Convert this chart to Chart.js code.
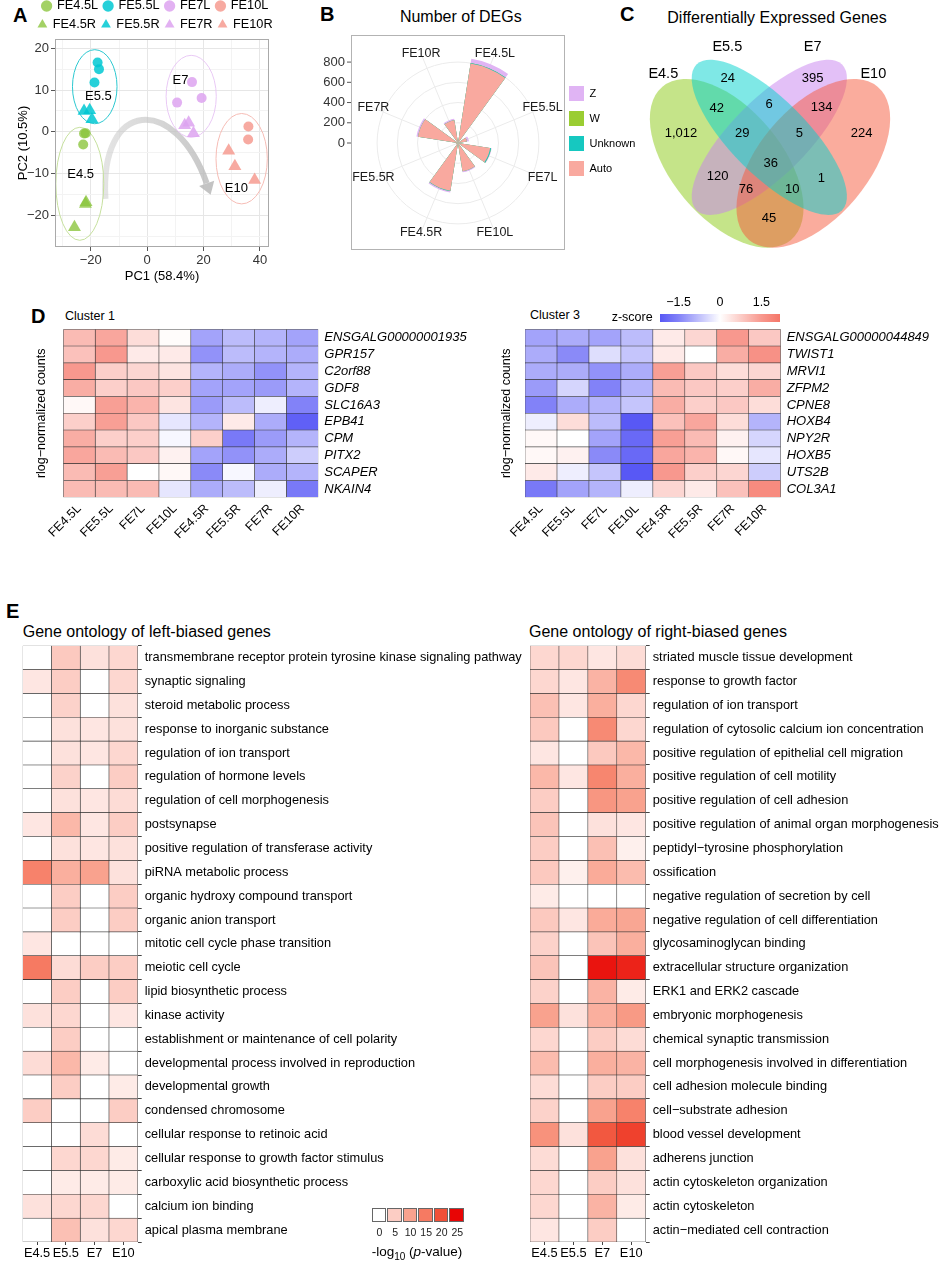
<!DOCTYPE html>
<html>
<head>
<meta charset="utf-8">
<title>Left-right DEG figure</title>
<script src="https://cdn.jsdelivr.net/npm/chart.js@4.4.1/dist/chart.umd.min.js"></script>
<style>
  body { margin: 0; background: #fff; }
  #page { position: relative; width: 941px; height: 1262px; overflow: hidden; background: #fff;
          font-family: 'Liberation Sans', Arial, Helvetica, sans-serif; color: #000; }
  #page canvas { position: absolute; }
  .t { position: absolute; white-space: nowrap; line-height: 1; }
  .box { position: absolute; }
</style>
</head>
<body>
<div id="page"></div>
<script>
const FONT = "'Liberation Sans', Arial, Helvetica, sans-serif";
Chart.defaults.font.family = FONT;
Chart.defaults.color = '#000';
Chart.defaults.animation = false;
Chart.defaults.responsive = false;
Chart.defaults.plugins.tooltip.enabled = false;

// ---------- A: PCA ----------
const pcaGroups = ['FE4.5L', 'FE5.5L', 'FE7L', 'FE10L', 'FE4.5R', 'FE5.5R', 'FE7R', 'FE10R'];
const pcaPC1 = [
  [-21.8, -22.4, -22.7],
  [-17.6, -17.1, -18.7],
  [15.9, 10.6, 19.3],
  [35.9, 35.8],
  [-21.7, -21.9, -25.8],
  [-22.4, -20.4, -19.6],
  [13.3, 14.7, 16.4],
  [28.9, 31.1, 38.1]
];
const pcaPC2 = [
  [-0.3, -0.4, -3.0],
  [16.6, 15.0, 11.8],
  [11.9, 7.0, 8.1],
  [1.3, -1.8],
  [-16.8, -17.2, -22.8],
  [5.0, 5.2, 3.0],
  [1.6, 2.2, -0.3],
  [-4.5, -8.2, -11.5]
];
const stageNames = ['E4.5', 'E5.5', 'E7', 'E10'];
const stageEllipseX = [-23.9, -18.6, 15.6, 33.5];
const stageEllipseY = [-12.4, 10.8, 8.5, -6.4];
const stageEllipseRX = [8.5, 7.9, 8.9, 9.1];
const stageEllipseRY = [13.5, 8.85, 9.8, 10.8];
const stageTextX = [-23.6, -17.3, 11.8, 31.6];
const stageTextY = [-10.1, 8.5, 12.2, -13.6];
const trajectoryX = [-14.8, -17, 10, 22.5];
const trajectoryY = [-16, 8, 9, -15];

// ---------- B: number of DEGs ----------
const degSamples = ['FE4.5L', 'FE5.5L', 'FE7L', 'FE10L', 'FE4.5R', 'FE5.5R', 'FE7R', 'FE10R'];
const degAuto = [795, 90, 322, 283, 478, 20, 400, 228];
const degUnknown = [6, 0, 9, 0, 3, 0, 0, 0];
const degW = [0, 0, 0, 0, 0, 0, 0, 0];
const degZ = [42, 20, 6, 10, 14, 2, 16, 14];
const degTicks = [0, 200, 400, 600, 800];

// ---------- C: Venn ----------
const vennSets = ['E4.5', 'E5.5', 'E7', 'E10'];
const vennCounts = [1012, 24, 395, 224, 42, 6, 134, 29, 5, 120, 1, 36, 76, 10, 45];

// ---------- D: heatmaps (z-scores) ----------
const clusterSamples = ['FE4.5L', 'FE5.5L', 'FE7L', 'FE10L', 'FE4.5R', 'FE5.5R', 'FE7R', 'FE10R'];
const cluster1Genes = ['ENSGALG00000001935', 'GPR157', 'C2orf88', 'GDF8', 'SLC16A3', 'EPB41', 'CPM', 'PITX2', 'SCAPER', 'NKAIN4'];
const cluster1Z = [
  [1.0, 1.3, 0.5, 0.05, -1.1, -0.8, -0.9, -1.1],
  [0.9, 1.5, 0.3, 0.3, -1.3, -0.8, -0.9, -1.0],
  [1.5, 0.7, 0.6, 0.4, -0.9, -1.0, -1.3, -0.9],
  [1.2, 0.7, 0.8, 0.7, -1.1, -1.1, -1.2, -0.9],
  [0.1, 1.4, 1.1, 0.4, -1.2, -0.8, -0.2, -1.5],
  [0.7, 1.4, 0.8, -0.3, -0.9, 0.3, -1.0, -1.9],
  [1.2, 0.7, 0.7, -0.1, 0.7, -1.6, -1.2, -0.9],
  [1.3, 1.0, 0.8, 0.2, -1.1, -1.3, -1.0, -0.6],
  [1.0, 1.4, 0.0, 0.1, -1.4, -0.1, -1.0, -0.9],
  [1.0, 1.0, 1.0, -0.3, -1.0, -0.8, -0.2, -1.6]
];
const cluster3Genes = ['ENSGALG00000044849', 'TWIST1', 'MRVI1', 'ZFPM2', 'CPNE8', 'HOXB4', 'NPY2R', 'HOXB5', 'UTS2B', 'COL3A1'];
const cluster3Z = [
  [-1.1, -1.0, -1.1, -0.8, 0.3, 0.6, 1.5, 0.8],
  [-1.0, -1.4, -0.4, -0.7, 0.3, 0.0, 1.2, 1.6],
  [-1.0, -1.0, -1.3, -1.0, 1.4, 0.8, 0.5, 0.6],
  [-1.2, -0.5, -1.5, -0.9, 1.0, 0.8, 0.7, 1.2],
  [-1.5, -1.0, -0.9, -0.7, 1.2, 0.7, 0.8, 0.5],
  [-0.2, 0.5, -0.8, -2.0, 0.9, 1.3, 0.5, -0.9],
  [0.1, 0.0, -1.1, -1.8, 1.4, 1.0, 0.2, -0.5],
  [0.1, 0.2, -1.4, -1.8, 1.3, 1.1, 0.1, -0.3],
  [0.3, -0.2, -0.7, -2.0, 1.5, 0.7, 0.6, -0.6],
  [-1.6, -1.1, -0.9, -0.2, 0.6, 0.3, 0.9, 1.7]
];
const zTicks = [-1.5, 0, 1.5];

// ---------- E: gene ontology (-log10 p) ----------
const goStages = ['E4.5', 'E5.5', 'E7', 'E10'];
const leftTerms = ['transmembrane receptor protein tyrosine kinase signaling pathway', 'synaptic signaling',
  'steroid metabolic process', 'response to inorganic substance', 'regulation of ion transport',
  'regulation of hormone levels', 'regulation of cell morphogenesis', 'postsynapse',
  'positive regulation of transferase activity', 'piRNA metabolic process', 'organic hydroxy compound transport',
  'organic anion transport', 'mitotic cell cycle phase transition', 'meiotic cell cycle', 'lipid biosynthetic process',
  'kinase activity', 'establishment or maintenance of cell polarity', 'developmental process involved in reproduction',
  'developmental growth', 'condensed chromosome', 'cellular response to retinoic acid',
  'cellular response to growth factor stimulus', 'carboxylic acid biosynthetic process', 'calcium ion binding',
  'apical plasma membrane'];
const leftP = [
  [0, 5.5, 3, 4], [2.5, 5, 0, 4], [0, 4.5, 0, 3], [0, 3, 2.5, 3], [0, 3, 2.5, 4],
  [0, 4.5, 0, 5], [0, 3, 2.5, 3.5], [2.5, 7.5, 2.5, 5], [0, 3, 2.5, 3], [14, 8.5, 10, 3],
  [0, 5, 0, 5], [0, 5, 0, 5], [2.5, 0, 0, 0], [15, 3.5, 5, 5], [0, 5, 0, 5],
  [3, 4, 0, 2.5], [0, 5, 0, 0], [3.5, 7.5, 2, 0], [0, 5, 0, 2], [5, 0, 0, 5],
  [0, 0, 3.5, 0], [0, 4, 4, 2], [0, 2, 2, 2], [3, 4, 4, 0], [0, 6.5, 3, 4]
];
const rightTerms = ['striated muscle tissue development', 'response to growth factor', 'regulation of ion transport',
  'regulation of cytosolic calcium ion concentration', 'positive regulation of epithelial cell migration',
  'positive regulation of cell motility', 'positive regulation of cell adhesion',
  'positive regulation of animal organ morphogenesis', 'peptidyl\u2212tyrosine phosphorylation', 'ossification',
  'negative regulation of secretion by cell', 'negative regulation of cell differentiation', 'glycosaminoglycan binding',
  'extracellular structure organization', 'ERK1 and ERK2 cascade', 'embryonic morphogenesis',
  'chemical synaptic transmission', 'cell morphogenesis involved in differentiation', 'cell adhesion molecule binding',
  'cell\u2212substrate adhesion', 'blood vessel development', 'adherens junction', 'actin cytoskeleton organization',
  'actin cytoskeleton', 'actin\u2212mediated cell contraction'];
const rightP = [
  [4, 4, 2.5, 3.5], [4, 2.5, 8, 13], [6.5, 2.5, 8.5, 4], [5.5, 0, 13, 4], [2.5, 0, 5.5, 7.5],
  [7.5, 2.5, 13.5, 8.5], [5, 0, 11.5, 10], [6, 0, 3, 2.5], [5, 0, 6.5, 1.5], [5.5, 1.5, 9, 7],
  [2, 0, 0, 0], [5.5, 2.5, 9, 9.5], [4.5, 0, 6, 8.5], [6, 0, 24, 23], [4.5, 0, 8, 2],
  [10, 3, 8.5, 11], [4, 0, 5, 3.5], [7, 0, 8.5, 8], [3.5, 0, 5, 5], [4.5, 0, 10, 14],
  [12, 3, 19, 21], [3.5, 0, 10, 3], [4, 0, 5, 3], [4, 0, 8, 2], [2.5, 0, 5, 0]
];
const pTicks = [0, 5, 10, 15, 20, 25];

// ---------- helpers ----------
const page = document.getElementById('page');
function makeCanvas(left, top, w, h) {
  const c = document.createElement('canvas');
  c.width = w; c.height = h;
  Object.assign(c.style, { left: left + 'px', top: top + 'px', width: w + 'px', height: h + 'px' });
  page.appendChild(c);
  return c;
}
function addText(html, x, base, size, align, extra) {
  const d = document.createElement('div');
  d.className = 't';
  d.innerHTML = html;
  d.style.fontSize = size + 'px';
  d.style.top = (base - 0.8465 * size) + 'px';
  if (align === 'center') { d.style.left = x + 'px'; d.style.transform = 'translateX(-50%)'; }
  else d.style.left = x + 'px';
  if (extra) Object.assign(d.style, extra);
  page.appendChild(d);
  return d;
}
function minus(v) { return v < 0 ? '\u2212' + Math.abs(v) : String(v); }
const rad = deg => deg * Math.PI / 180;

function zColor(z) {
  const t = Math.max(-2, Math.min(2, z)) / 2;
  const c = t < 0 ? [88, 88, 245] : [245, 118, 104];
  const a = Math.abs(t);
  return 'rgb(' + c.map(v => Math.round(255 + (v - 255) * a)).join(',') + ')';
}
const pRamp = [[255, 255, 255], [252, 205, 196], [249, 162, 142], [246, 122, 98], [241, 80, 55], [232, 5, 5]];
function pColor(p) {
  const s = Math.max(0, Math.min(25, p)) / 5;
  const i = Math.min(4, Math.floor(s));
  const f = s - i;
  const a = pRamp[i], b = pRamp[i + 1];
  return 'rgb(' + a.map((v, k) => Math.round(v + (b[k] - v) * f)).join(',') + ')';
}

// patch legend size / position
const legendFit = {
  id: 'legendFit',
  beforeLayout(chart, args, opts) {
    const lg = chart.legend;
    if (!lg || lg._patched) return;
    const fit = lg.fit;
    lg.fit = function () {
      fit.call(this);
      if (opts.dh) this.height += opts.dh;
      if (opts.width) this.width = opts.width;
    };
    lg._patched = true;
  },
  afterLayout(chart, args, opts) {
    const lg = chart.legend;
    if (!lg) return;
    const dx = opts.dx || 0, dy = opts.dy || 0;
    lg.left += dx; lg.right += dx; lg.top += dy; lg.bottom += dy;
  }
};

// ---------- panel letters / titles ----------
addText('A', 13, 22, 20, 'left', { fontWeight: 'bold' });
addText('B', 320, 21, 20, 'left', { fontWeight: 'bold' });
addText('C', 620, 21, 20, 'left', { fontWeight: 'bold' });
addText('D', 31, 322.7, 20, 'left', { fontWeight: 'bold' });
addText('E', 6, 618, 20, 'left', { fontWeight: 'bold' });
addText('Number of DEGs', 460.8, 22.5, 16, 'center');
addText('Differentially Expressed Genes', 777, 24, 16, 'center');
addText('Cluster 1', 65, 320.5, 12.5, 'left');
addText('Cluster 3', 530, 320, 12.5, 'left');
addText('Gene ontology of left-biased genes', 22.7, 637.3, 16, 'left');
addText('Gene ontology of right-biased genes', 529, 637.3, 16, 'left');

// ---------- A ----------
const stageFill = ['rgba(140,198,63,0.8)', 'rgba(0,200,210,0.85)', 'rgba(221,163,240,0.85)', 'rgba(246,155,145,0.85)'];
const stageLine = ['#c6e09e', '#2cc8d0', '#e9c9f5', '#f6bcb5'];

const pcaDecor = {
  id: 'pcaDecor',
  beforeDatasetsDraw(chart) {
    const { ctx, scales: { x, y } } = chart;
    ctx.save();
    // developmental trajectory arrow
    const px = trajectoryX.map(v => x.getPixelForValue(v));
    const py = trajectoryY.map(v => y.getPixelForValue(v));
    const ang = Math.atan2(py[3] - py[2], px[3] - px[2]);
    const head = 15;
    const ex = px[3] - Math.cos(ang) * head * 0.8, ey = py[3] - Math.sin(ang) * head * 0.8;
    const grad = ctx.createLinearGradient(px[0], py[0], px[3], py[3]);
    grad.addColorStop(0, 'rgba(205,205,205,0.55)');
    grad.addColorStop(1, 'rgba(185,185,185,0.8)');
    ctx.strokeStyle = grad;
    ctx.lineWidth = 6;
    ctx.beginPath();
    ctx.moveTo(px[0], py[0]);
    ctx.bezierCurveTo(px[1], py[1], px[2], py[2], ex, ey);
    ctx.stroke();
    ctx.fillStyle = 'rgba(185,185,185,0.85)';
    ctx.beginPath();
    ctx.moveTo(px[3], py[3]);
    ctx.lineTo(ex - Math.cos(ang + Math.PI / 2) * 8, ey - Math.sin(ang + Math.PI / 2) * 8);
    ctx.lineTo(ex + Math.cos(ang + Math.PI / 2) * 8, ey + Math.sin(ang + Math.PI / 2) * 8);
    ctx.closePath();
    ctx.fill();
    // stage ellipses
    stageNames.forEach((s, i) => {
      const cx = x.getPixelForValue(stageEllipseX[i]);
      const cy = y.getPixelForValue(stageEllipseY[i]);
      const rx = Math.abs(x.getPixelForValue(stageEllipseX[i] + stageEllipseRX[i]) - cx);
      const ry = Math.abs(y.getPixelForValue(stageEllipseY[i] + stageEllipseRY[i]) - cy);
      ctx.beginPath();
      ctx.ellipse(cx, cy, rx, ry, 0, 0, Math.PI * 2);
      ctx.strokeStyle = stageLine[i];
      ctx.lineWidth = 1;
      ctx.stroke();
    });
    ctx.restore();
  },
  afterDatasetsDraw(chart) {
    const { ctx, chartArea: a, scales: { x, y } } = chart;
    ctx.save();
    ctx.fillStyle = '#000';
    ctx.font = '13px ' + FONT;
    ctx.textAlign = 'center';
    ctx.textBaseline = 'middle';
    stageNames.forEach((s, i) => ctx.fillText(s, x.getPixelForValue(stageTextX[i]), y.getPixelForValue(stageTextY[i])));
    ctx.strokeStyle = '#aaaaaa';
    ctx.lineWidth = 1;
    ctx.strokeRect(a.left + 0.5, a.top + 0.5, a.right - a.left - 1, a.bottom - a.top - 1);
    ctx.restore();
  }
};

const isMajor = (c, m) => c.tick && Math.abs(c.tick.value % m) < 1e-6;
new Chart(makeCanvas(0, 0, 312, 290), {
  type: 'scatter',
  data: {
    datasets: pcaGroups.map((g, i) => ({
      label: g,
      data: pcaPC1[i].map((v, j) => ({ x: v, y: pcaPC2[i][j] })),
      pointStyle: i < 4 ? 'circle' : 'triangle',
      pointRadius: i < 4 ? 5 : 7.5,
      backgroundColor: stageFill[i % 4],
      borderWidth: 0
    }))
  },
  options: {
    layout: { padding: { top: -6.4, right: 43, left: 0, bottom: 0 } },
    plugins: {
      legend: { labels: { usePointStyle: true, boxWidth: 8, boxHeight: 8, padding: 6, font: { size: 12.75 }, color: '#000' } },
      legendFit: { dh: -2.1, dx: 21 }
    },
    scales: {
      x: {
        type: 'linear', min: -32.7, max: 43.2,
        ticks: { stepSize: 10, includeBounds: false, autoSkip: false, maxRotation: 0, font: { size: 13 }, color: '#333', padding: 2,
                 callback: v => (v % 20 === 0 ? minus(v) : '') },
        grid: { color: c => (isMajor(c, 20) ? '#e6e6e6' : '#f3f3f3'),
                tickColor: c => (isMajor(c, 20) ? '#555' : 'rgba(0,0,0,0)'), tickLength: 4 },
        border: { display: false },
        title: { display: true, text: 'PC1 (58.4%)', font: { size: 13 }, color: '#000', padding: { top: 0, bottom: 6.2 } },
        afterFit: ax => { ax.height = 43; }
      },
      y: {
        type: 'linear', min: -27.5, max: 22.2,
        ticks: { stepSize: 5, includeBounds: false, autoSkip: false, font: { size: 13 }, color: '#333', padding: 2,
                 callback: v => (v % 10 === 0 ? minus(v) : '') },
        grid: { color: c => (isMajor(c, 10) ? '#e6e6e6' : '#f3f3f3'),
                tickColor: c => (isMajor(c, 10) ? '#555' : 'rgba(0,0,0,0)'), tickLength: 4 },
        border: { display: false },
        title: { display: true, text: 'PC2 (10.5%)', font: { size: 13 }, color: '#000', padding: { top: 15.2, bottom: 0 } },
        afterFit: ax => { ax.width = 55; }
      }
    }
  },
  plugins: [legendFit, pcaDecor]
});

// ---------- B ----------
const frameB = document.createElement('div');
frameB.className = 'box';
Object.assign(frameB.style, { left: '351px', top: '35px', width: '212px', height: '213px', border: '1px solid #b3b3b3' });
page.appendChild(frameB);

const degColors = { Auto: '#f9a99f', Unknown: '#16c8c0', W: '#9acd32', Z: '#e0b4f4' };
const stackAuto = degAuto.slice();
const stackUnknown = stackAuto.map((v, i) => v + degUnknown[i]);
const stackW = stackUnknown.map((v, i) => v + degW[i]);
const stackZ = stackW.map((v, i) => v + degZ[i]);
// ggplot bars take 0.6 of each slot: every wedge is followed by an empty gap slot
const wedgeDeg = 360 / degSamples.length;
const barFrac = 0.6;
const polarLabels = degSamples.flatMap(s => [s, '']);
const withGaps = arr => arr.flatMap(v => [v, 0]);
const wedgeAngle = c => (c.dataIndex % 2 ? wedgeDeg * (1 - barFrac) : wedgeDeg * barFrac);
const labelShift = rad(wedgeDeg * barFrac / 2);

const polarDecor = {
  id: 'polarDecor',
  beforeDatasetsDraw(chart) {
    const r = chart.scales.r, ctx = chart.ctx;
    ctx.save();
    ctx.strokeStyle = '#ebebeb';
    ctx.lineWidth = 1;
    degSamples.forEach((s, k) => {
      const p = r.getPointPosition(2 * k, r.getDistanceFromCenterForValue(960), labelShift);
      ctx.beginPath(); ctx.moveTo(r.xCenter, r.yCenter); ctx.lineTo(p.x, p.y); ctx.stroke();
    });
    ctx.restore();
  },
  afterDraw(chart) {
    const r = chart.scales.r, ctx = chart.ctx;
    const unit = r.getDistanceFromCenterForValue(880) / 88.9;
    ctx.save();
    ctx.font = '12.5px ' + FONT;
    ctx.fillStyle = '#1a1a1a';
    ctx.textAlign = 'center';
    ctx.textBaseline = 'middle';
    degSamples.forEach((s, k) => {
      const theta = rad((k + 0.5) * wedgeDeg);
      const d = (88 + 9 * Math.abs(Math.cos(theta))) * unit;
      const p = r.getPointPosition(2 * k, d, labelShift);
      ctx.fillText(s, p.x, p.y);
    });
    // left radial axis (ggplot style)
    ctx.font = '13px ' + FONT;
    ctx.fillStyle = '#333';
    ctx.textAlign = 'right';
    ctx.strokeStyle = '#555';
    degTicks.forEach(v => {
      const yy = r.yCenter - r.getDistanceFromCenterForValue(v);
      ctx.fillText(String(v), 25, yy);
      ctx.beginPath(); ctx.moveTo(27, yy); ctx.lineTo(31, yy); ctx.stroke();
    });
    ctx.restore();
  }
};

new Chart(makeCanvas(320, 0, 320, 260), {
  type: 'polarArea',
  data: {
    labels: polarLabels,
    datasets: [
      { label: 'Auto', data: withGaps(stackAuto), backgroundColor: degColors.Auto, borderWidth: 0, angle: wedgeAngle },
      { label: 'Unknown', data: withGaps(stackUnknown), backgroundColor: degColors.Unknown, borderWidth: 0, angle: wedgeAngle },
      { label: 'W', data: withGaps(stackW), backgroundColor: degColors.W, borderWidth: 0, angle: wedgeAngle },
      { label: 'Z', data: withGaps(stackZ), backgroundColor: degColors.Z, borderWidth: 0, angle: wedgeAngle }
    ]
  },
  options: {
    layout: { padding: { left: 49.3, top: 54.3, bottom: 27.7, right: 6.7 } },
    scales: {
      r: {
        min: 0, max: 880, startAngle: wedgeDeg * (1 - barFrac) / 2,
        afterBuildTicks: ax => { ax.ticks = degTicks.map(v => ({ value: v })); },
        ticks: { display: false },
        grid: { color: '#ebebeb', circular: true },
        angleLines: { display: false },
        pointLabels: { display: false }
      }
    },
    plugins: {
      legend: {
        position: 'right',
        labels: {
          boxWidth: 15, boxHeight: 15, padding: 10, font: { size: 11 }, color: '#000',
          generateLabels: chart => chart.data.datasets.map((ds, i) => ({
            text: ds.label, fillStyle: ds.backgroundColor, strokeStyle: ds.backgroundColor,
            lineWidth: 0, hidden: false, datasetIndex: i
          })).reverse()
        }
      },
      legendFit: { width: 86, dx: 11.7, dy: -12.3 }
    }
  },
  plugins: [legendFit, polarDecor]
});

// ---------- C ----------
// drawing layout of the four-set Venn (canvas units)
const vennEllipseX = [101.7, 144.3, 144.3, 188.3];
const vennEllipseY = [163.3, 137.3, 137.3, 163.3];
const vennEllipseA = [100, 103, 103, 100];
const vennEllipseB = [55, 38, 38, 55];
const vennEllipseRot = [50, 45, -45, -50];
const vennFill = ['rgba(150,205,40,0.55)', 'rgba(0,210,205,0.5)', 'rgba(200,130,240,0.5)', 'rgba(245,90,60,0.5)'];
const vennDrawOrder = [0, 2, 3, 1];
const vennSetX = [38.3, 102.3, 187.7, 248.3];
const vennSetY = [74, 46.7, 46.7, 74];
const vennCountX = [56, 102.7, 187.7, 236.7, 91.7, 144, 196.7, 117.3, 174.3, 92.7, 196.3, 145.7, 121, 167.3, 144];
const vennCountY = [133.3, 78.7, 78.7, 133.3, 108.7, 104.3, 107.3, 133.3, 133.3, 176, 178.3, 163.3, 189.3, 189.3, 218.3];

const vennDecor = {
  id: 'vennDecor',
  beforeDatasetsDraw(chart) {
    const { ctx, scales: { x, y } } = chart;
    ctx.save();
    vennDrawOrder.forEach(i => {
      const cx = x.getPixelForValue(vennEllipseX[i]), cy = y.getPixelForValue(vennEllipseY[i]);
      const a = x.getPixelForValue(vennEllipseX[i] + vennEllipseA[i]) - cx;
      const b = x.getPixelForValue(vennEllipseX[i] + vennEllipseB[i]) - cx;
      ctx.beginPath();
      ctx.ellipse(cx, cy, a, b, rad(vennEllipseRot[i]), 0, Math.PI * 2);
      ctx.fillStyle = vennFill[i];
      ctx.fill();
    });
    ctx.fillStyle = '#000';
    ctx.font = '14.5px ' + FONT;
    ctx.textAlign = 'center';
    ctx.textBaseline = 'middle';
    vennSets.forEach((s, i) => ctx.fillText(s, x.getPixelForValue(vennSetX[i]), y.getPixelForValue(vennSetY[i])));
    ctx.restore();
  },
  afterDatasetsDraw(chart) {
    const ctx = chart.ctx, meta = chart.getDatasetMeta(0);
    ctx.save();
    ctx.fillStyle = '#000';
    ctx.font = '13px ' + FONT;
    ctx.textAlign = 'center';
    ctx.textBaseline = 'middle';
    meta.data.forEach((pt, i) => ctx.fillText(vennCounts[i].toLocaleString('en-US'), pt.x, pt.y));
    ctx.restore();
  }
};

new Chart(makeCanvas(625, 0, 316, 260), {
  type: 'scatter',
  data: { datasets: [{ data: vennCountX.map((v, i) => ({ x: v, y: vennCountY[i] })), pointRadius: 0 }] },
  options: {
    layout: { padding: 0 },
    plugins: { legend: { display: false } },
    scales: {
      x: { display: false, min: 0, max: 316 },
      y: { display: false, min: 0, max: 260, reverse: true }
    }
  },
  plugins: [vennDecor]
});

// ---------- heatmap helper (D and E) ----------
function heatmap(canvas, o) {
  const nCols = o.cols.length;
  const scales = {
    x: {
      type: 'linear', stacked: true, min: 0, max: nCols,
      afterBuildTicks: ax => { ax.ticks = o.cols.map((c, j) => ({ value: j + 0.5 })); },
      ticks: { autoSkip: false, callback: (v, j) => o.cols[j], font: { size: o.xFont }, color: '#000',
               minRotation: o.rotate, maxRotation: o.rotate, padding: o.xPad },
      grid: { display: true, drawOnChartArea: false, drawTicks: o.xTicks, tickLength: 3, tickColor: '#444' },
      border: { display: false },
      afterFit: ax => { ax.height = o.xHeight; }
    },
    y: {
      type: 'category', position: 'right', stacked: true,
      ticks: { autoSkip: false, font: o.yFont, color: '#000', padding: o.yPad },
      grid: { display: true, drawOnChartArea: false, drawTicks: o.yTicks, tickLength: 4, tickColor: '#444' },
      border: { display: false },
      afterFit: ax => { ax.width = o.yWidth; }
    }
  };
  if (o.yTitle) {
    scales.yl = {
      type: 'linear', position: 'left', display: true,
      ticks: { display: false }, grid: { display: false }, border: { display: false },
      title: { display: true, text: o.yTitle, font: { size: 12.5 }, color: '#000', padding: { top: o.yTitlePad, bottom: 0 } },
      afterFit: ax => { ax.width = o.ylWidth; }
    };
  }
  return new Chart(canvas, {
    type: 'bar',
    data: {
      labels: o.rows,
      datasets: o.cols.map((c, j) => ({
        label: c,
        data: o.rows.map(() => 1),
        backgroundColor: o.rows.map((r, i) => o.color(o.values[i][j])),
        borderColor: '#333', borderWidth: 0.6, borderSkipped: false,
        barPercentage: 1, categoryPercentage: 1
      }))
    },
    options: {
      indexAxis: 'y',
      layout: { padding: o.padding },
      plugins: { legend: { display: false } },
      scales
    }
  });
}

// ---------- D ----------
const dCommon = {
  cols: clusterSamples, color: zColor, xFont: 12.5, rotate: 45, xPad: 4, xTicks: false, xHeight: 52.7,
  yFont: { size: 13, style: 'italic' }, yPad: 6, yTicks: false, yTitle: 'rlog\u2212normalized counts'
};
heatmap(makeCanvas(0, 295, 470, 255), Object.assign({}, dCommon, {
  rows: cluster1Genes, values: cluster1Z, yWidth: 151.7, ylWidth: 63.3, yTitlePad: 34.5,
  padding: { top: 34.3, left: 0, right: 0, bottom: 0 }
}));
heatmap(makeCanvas(470, 295, 471, 255), Object.assign({}, dCommon, {
  rows: cluster3Genes, values: cluster3Z, yWidth: 160.3, ylWidth: 55, yTitlePad: 29.2,
  padding: { top: 34.3, left: 0, right: 0, bottom: 0 }
}));

// z-score colour bar
addText('z-score', 611.7, 321.5, 12.5, 'left');
const zBar = document.createElement('div');
zBar.className = 'box';
const zStops = [-2.17, -1.5, -1, -0.5, 0, 0.5, 1, 1.5, 2.17].map((z, k, arr) =>
  zColor(z) + ' ' + ((z - arr[0]) / (arr[arr.length - 1] - arr[0]) * 100).toFixed(1) + '%');
Object.assign(zBar.style, { left: '660px', top: '314px', width: '120px', height: '8px',
  background: 'linear-gradient(to right, ' + zStops.join(', ') + ')' });
page.appendChild(zBar);
zTicks.forEach(z => addText(minus(z), 720 + z * 27.6, 306.3, 12.5, 'center'));

// ---------- E ----------
const eCommon = {
  cols: goStages, color: pColor, xFont: 12.8, rotate: 0, xPad: 1, xTicks: true, xHeight: 20,
  yFont: { size: 12.8 }, yPad: 3, yTicks: true
};
heatmap(makeCanvas(0, 600, 530, 662), Object.assign({}, eCommon, {
  rows: leftTerms, values: leftP, yWidth: 392.3,
  padding: { top: 45.7, left: 22.7, right: 0, bottom: 0 }
}));
heatmap(makeCanvas(470, 600, 471, 662), Object.assign({}, eCommon, {
  rows: rightTerms, values: rightP, yWidth: 295.3,
  padding: { top: 45.7, left: 60, right: 0, bottom: 0 }
}));

// -log10 p colour key
pTicks.forEach((p, k) => {
  const b = document.createElement('div');
  b.className = 'box';
  Object.assign(b.style, { left: (371.7 + k * 15.55) + 'px', top: '1208.3px', width: '12.5px', height: '12px',
    background: pColor(p), border: '1px solid #666' });
  page.appendChild(b);
  addText(String(p), 379.5 + k * 15.55, 1235.7, 10.5, 'center', { color: '#222' });
});
addText('-log<span style="font-size:10px;position:relative;top:4px">10</span> (<i>p</i>-value)', 371.7, 1256, 13.5, 'left');
</script>
</body>
</html>
